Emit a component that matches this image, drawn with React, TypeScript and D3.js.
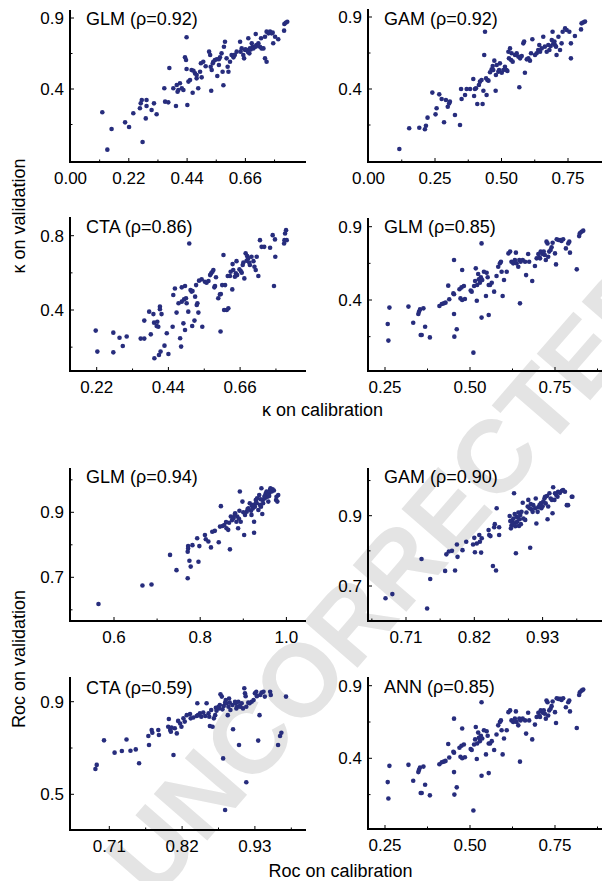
import React from "react";
import * as d3 from "d3";

type Pt = [number, number];

// κ on calibration (x) vs κ on validation (y)
const kappaGLM: Pt[] = [
  [0.120,0.236],[0.139,-0.027],[0.155,0.118],[0.206,0.165],[0.221,0.132],[0.237,0.229],[0.262,0.264],[0.265,0.299],[0.269,0.323],[0.272,0.027],
  [0.284,0.193],[0.287,0.323],[0.287,0.280],[0.306,0.252],[0.315,0.299],[0.325,0.222],[0.354,0.405],[0.357,0.311],[0.373,0.548],[0.369,0.306],
  [0.388,0.405],[0.398,0.280],[0.401,0.428],[0.407,0.393],[0.404,0.381],[0.413,0.440],[0.420,0.405],[0.426,0.393],[0.432,0.623],[0.436,0.604],
  [0.438,0.764],[0.438,0.541],[0.441,0.287],[0.445,0.452],[0.451,0.463],[0.457,0.534],[0.461,0.374],[0.464,0.529],[0.470,0.510],[0.476,0.499],
  [0.476,0.475],[0.482,0.405],[0.489,0.522],[0.492,0.581],[0.495,0.482],[0.501,0.592],[0.523,0.663],[0.527,0.639],[0.529,0.557],[0.531,0.388],
  [0.533,0.534],[0.537,0.581],[0.539,0.592],[0.545,0.604],[0.552,0.609],[0.554,0.492],[0.560,0.569],[0.564,0.623],[0.570,0.651],[0.574,0.522],
  [0.577,0.426],[0.579,0.698],[0.583,0.733],[0.589,0.616],[0.593,0.557],[0.596,0.522],[0.602,0.592],[0.608,0.639],[0.615,0.623],[0.627,0.663],
  [0.640,0.733],[0.642,0.663],[0.646,0.686],[0.652,0.639],[0.655,0.616],[0.659,0.675],[0.665,0.675],[0.671,0.757],[0.675,0.651],[0.677,0.686],
  [0.680,0.679],[0.684,0.722],[0.687,0.698],[0.690,0.686],[0.696,0.698],[0.699,0.787],[0.702,0.710],[0.709,0.722],[0.715,0.698],[0.719,0.757],
  [0.721,0.686],[0.728,0.686],[0.734,0.616],[0.740,0.592],[0.734,0.768],[0.740,0.804],[0.747,0.792],[0.753,0.804],[0.759,0.792],[0.763,0.797],
  [0.765,0.722],[0.772,0.768],[0.784,0.750],[0.806,0.811],[0.807,0.858],[0.812,0.867],[0.818,0.874],[0.660,0.680],[0.670,0.660],[0.700,0.700],
  [0.620,0.640],[0.510,0.560],[0.560,0.610],
];

const kappaGAM: Pt[] = [
  [0.116,-0.017],[0.153,0.127],[0.191,0.131],[0.212,0.120],[0.216,0.145],[0.222,0.201],[0.240,0.375],[0.252,0.224],[0.256,0.266],[0.266,0.363],
  [0.275,0.331],[0.284,0.169],[0.291,0.324],[0.298,0.277],[0.303,0.300],[0.306,0.312],[0.325,0.219],[0.344,0.150],[0.348,0.400],[0.350,0.331],
  [0.363,0.358],[0.369,0.400],[0.382,0.400],[0.394,0.469],[0.397,0.351],[0.400,0.400],[0.404,0.405],[0.409,0.296],[0.415,0.428],[0.419,0.451],
  [0.425,0.463],[0.429,0.296],[0.432,0.388],[0.435,0.636],[0.438,0.798],[0.442,0.474],[0.444,0.358],[0.447,0.463],[0.451,0.458],[0.457,0.516],
  [0.463,0.537],[0.467,0.560],[0.469,0.532],[0.473,0.597],[0.478,0.388],[0.479,0.497],[0.482,0.567],[0.488,0.520],[0.491,0.532],[0.494,0.578],
  [0.501,0.513],[0.507,0.532],[0.513,0.555],[0.519,0.532],[0.522,0.525],[0.526,0.659],[0.528,0.613],[0.532,0.682],[0.536,0.601],[0.538,0.648],
  [0.542,0.590],[0.551,0.636],[0.557,0.648],[0.563,0.625],[0.570,0.613],[0.567,0.412],[0.576,0.629],[0.582,0.717],[0.585,0.729],[0.588,0.513],
  [0.595,0.606],[0.601,0.613],[0.607,0.597],[0.611,0.648],[0.616,0.745],[0.626,0.636],[0.632,0.648],[0.638,0.671],[0.642,0.706],[0.645,0.659],
  [0.651,0.682],[0.657,0.763],[0.663,0.694],[0.670,0.659],[0.676,0.706],[0.680,0.671],[0.685,0.699],[0.689,0.740],[0.692,0.798],[0.695,0.717],
  [0.699,0.729],[0.701,0.706],[0.705,0.694],[0.707,0.636],[0.714,0.763],[0.720,0.671],[0.726,0.717],[0.730,0.798],[0.739,0.821],[0.745,0.810],
  [0.755,0.798],[0.761,0.717],[0.761,0.613],[0.776,0.768],[0.799,0.814],[0.801,0.856],[0.808,0.863],[0.814,0.868],
];

const kappaCTA: Pt[] = [
  [0.217,0.289],[0.222,0.176],[0.271,0.278],[0.271,0.172],[0.290,0.251],[0.300,0.206],[0.312,0.257],[0.355,0.246],[0.366,0.246],[0.366,0.343],
  [0.381,0.391],[0.386,0.269],[0.394,0.378],[0.396,0.332],[0.397,0.140],[0.404,0.314],[0.406,0.337],[0.409,0.310],[0.411,0.158],[0.414,0.404],
  [0.414,0.418],[0.419,0.378],[0.416,0.176],[0.428,0.208],[0.435,0.275],[0.440,0.163],[0.453,0.310],[0.455,0.481],[0.460,0.516],[0.465,0.386],
  [0.471,0.436],[0.476,0.248],[0.479,0.203],[0.481,0.445],[0.481,0.522],[0.486,0.328],[0.488,0.457],[0.491,0.292],[0.491,0.529],[0.494,0.463],
  [0.496,0.436],[0.501,0.391],[0.504,0.758],[0.508,0.508],[0.511,0.499],[0.513,0.314],[0.514,0.502],[0.520,0.343],[0.522,0.472],[0.525,0.534],
  [0.527,0.427],[0.529,0.436],[0.532,0.386],[0.534,0.558],[0.542,0.565],[0.544,0.310],[0.552,0.552],[0.557,0.547],[0.563,0.556],[0.568,0.588],
  [0.571,0.597],[0.575,0.606],[0.578,0.615],[0.581,0.522],[0.583,0.529],[0.586,0.576],[0.593,0.463],[0.598,0.484],[0.600,0.284],[0.601,0.486],
  [0.605,0.534],[0.609,0.696],[0.611,0.400],[0.614,0.534],[0.619,0.400],[0.622,0.583],[0.624,0.409],[0.629,0.583],[0.631,0.606],[0.636,0.511],
  [0.637,0.647],[0.639,0.615],[0.644,0.579],[0.647,0.597],[0.649,0.663],[0.651,0.588],[0.658,0.619],[0.662,0.610],[0.665,0.601],[0.668,0.642],
  [0.670,0.656],[0.673,0.570],[0.677,0.705],[0.680,0.665],[0.682,0.690],[0.685,0.678],[0.688,0.656],[0.690,0.642],[0.695,0.687],[0.701,0.663],
  [0.704,0.633],[0.708,0.615],[0.711,0.687],[0.716,0.583],[0.721,0.776],[0.726,0.740],[0.734,0.740],[0.752,0.735],[0.760,0.803],[0.764,0.529],
  [0.767,0.780],[0.768,0.687],[0.795,0.758],[0.796,0.776],[0.798,0.812],[0.801,0.830],[0.803,0.776],
];

// shared by the κ GLM (ρ=0.85) and ANN (ρ=0.85) panels
const kappaGLM2: Pt[] = [
  [0.258,0.236],[0.260,0.123],[0.263,0.348],[0.319,0.355],[0.333,0.245],[0.348,0.305],[0.350,0.320],[0.353,0.336],[0.355,0.161],[0.358,0.161],
  [0.363,0.343],[0.368,0.218],[0.382,0.145],[0.410,0.359],[0.417,0.373],[0.423,0.377],[0.428,0.382],[0.436,0.498],[0.439,0.405],[0.451,0.445],
  [0.453,0.439],[0.453,0.305],[0.453,0.673],[0.454,0.150],[0.461,0.200],[0.469,0.473],[0.472,0.411],[0.475,0.486],[0.477,0.605],[0.477,0.400],
  [0.482,0.495],[0.485,0.407],[0.502,0.464],[0.505,0.457],[0.510,0.041],[0.512,0.495],[0.515,0.530],[0.517,0.616],[0.520,0.395],[0.521,0.502],
  [0.524,0.577],[0.526,0.541],[0.529,0.518],[0.532,0.555],[0.534,0.280],[0.534,0.786],[0.536,0.536],[0.541,0.593],[0.547,0.427],[0.549,0.586],
  [0.552,0.555],[0.555,0.298],[0.555,0.502],[0.559,0.502],[0.564,0.518],[0.571,0.457],[0.578,0.564],[0.583,0.627],[0.588,0.650],[0.591,0.661],
  [0.593,0.593],[0.596,0.427],[0.600,0.536],[0.608,0.593],[0.613,0.718],[0.618,0.730],[0.622,0.661],[0.627,0.650],[0.632,0.673],[0.635,0.723],
  [0.637,0.650],[0.642,0.627],[0.645,0.673],[0.647,0.377],[0.649,0.661],[0.655,0.673],[0.662,0.661],[0.665,0.570],[0.671,0.714],[0.674,0.661],
  [0.683,0.530],[0.691,0.632],[0.696,0.684],[0.701,0.714],[0.704,0.691],[0.706,0.684],[0.708,0.730],[0.711,0.723],[0.714,0.714],[0.717,0.730],
  [0.720,0.707],[0.723,0.673],[0.725,0.798],[0.728,0.786],[0.730,0.695],[0.733,0.730],[0.737,0.741],[0.740,0.759],[0.743,0.791],[0.750,0.718],
  [0.753,0.643],[0.755,0.814],[0.760,0.809],[0.765,0.809],[0.769,0.802],[0.774,0.814],[0.782,0.752],[0.789,0.786],[0.792,0.798],[0.794,0.723],
  [0.814,0.609],[0.821,0.836],[0.823,0.855],[0.828,0.866],[0.833,0.873],
];

// Roc on calibration (x) vs Roc on validation (y)
const rocGLM: Pt[] = [
  [0.564,0.618],[0.666,0.675],[0.687,0.678],[0.730,0.769],[0.745,0.722],[0.771,0.697],[0.771,0.779],[0.772,0.789],[0.772,0.796],[0.775,0.751],
  [0.778,0.733],[0.782,0.799],[0.796,0.748],[0.798,0.796],[0.793,0.820],[0.811,0.830],[0.813,0.817],[0.819,0.810],[0.825,0.792],[0.828,0.840],
  [0.834,0.843],[0.843,0.808],[0.848,0.919],[0.846,0.856],[0.852,0.858],[0.856,0.861],[0.861,0.851],[0.865,0.846],[0.869,0.786],[0.867,0.868],
  [0.871,0.887],[0.874,0.876],[0.877,0.882],[0.881,0.897],[0.884,0.871],[0.886,0.887],[0.888,0.851],[0.891,0.905],[0.892,0.964],[0.894,0.871],
  [0.898,0.933],[0.902,0.830],[0.904,0.892],[0.908,0.902],[0.912,0.912],[0.915,0.928],[0.918,0.905],[0.919,0.892],[0.922,0.912],[0.923,0.923],
  [0.925,0.837],[0.925,0.871],[0.927,0.917],[0.929,0.938],[0.931,0.928],[0.932,0.943],[0.935,0.907],[0.937,0.953],[0.939,0.923],[0.941,0.917],
  [0.942,0.974],[0.944,0.895],[0.945,0.938],[0.946,0.928],[0.949,0.948],[0.950,0.943],[0.952,0.958],[0.954,0.964],[0.956,0.948],[0.958,0.933],
  [0.960,0.958],[0.962,0.969],[0.963,0.974],[0.966,0.964],[0.968,0.971],[0.971,0.967],[0.976,0.938],[0.977,0.948],[0.979,0.933],[0.981,0.953],
  [0.900,0.900],[0.910,0.910],[0.920,0.920],[0.930,0.930],[0.940,0.940],[0.950,0.950],[0.880,0.890],[0.860,0.870],[0.890,0.880],[0.940,0.920],
  [0.960,0.950],
];

const rocGAM: Pt[] = [
  [0.677,0.665],[0.688,0.677],[0.735,0.777],[0.744,0.636],[0.749,0.720],[0.773,0.743],[0.775,0.790],[0.779,0.798],[0.784,0.800],[0.789,0.744],
  [0.792,0.818],[0.793,0.783],[0.801,0.802],[0.807,0.826],[0.818,0.818],[0.820,0.837],[0.821,0.796],[0.824,0.821],[0.828,0.845],[0.829,0.826],
  [0.831,0.795],[0.832,0.836],[0.843,0.859],[0.844,0.845],[0.846,0.842],[0.850,0.757],[0.852,0.867],[0.853,0.876],[0.855,0.744],[0.856,0.921],
  [0.860,0.845],[0.860,0.867],[0.877,0.899],[0.879,0.864],[0.880,0.873],[0.881,0.886],[0.883,0.892],[0.884,0.964],[0.885,0.905],[0.887,0.793],
  [0.887,0.880],[0.888,0.897],[0.889,0.883],[0.891,0.909],[0.892,0.871],[0.894,0.902],[0.895,0.876],[0.896,0.911],[0.898,0.937],[0.899,0.892],
  [0.902,0.888],[0.904,0.909],[0.906,0.926],[0.907,0.945],[0.909,0.921],[0.910,0.809],[0.911,0.933],[0.912,0.918],[0.914,0.911],[0.915,0.930],
  [0.918,0.921],[0.919,0.949],[0.920,0.878],[0.922,0.911],[0.923,0.924],[0.925,0.930],[0.927,0.935],[0.928,0.921],[0.930,0.927],[0.931,0.940],
  [0.933,0.949],[0.934,0.954],[0.935,0.935],[0.937,0.956],[0.938,0.890],[0.939,0.926],[0.941,0.964],[0.943,0.949],[0.945,0.945],[0.946,0.907],
  [0.947,0.981],[0.949,0.945],[0.950,0.964],[0.952,0.959],[0.954,0.954],[0.955,0.968],[0.958,0.965],[0.961,0.971],[0.963,0.973],[0.966,0.968],
  [0.969,0.930],[0.971,0.930],[0.977,0.954],[0.978,0.954],[0.878,0.885],[0.882,0.878],[0.886,0.870],[0.890,0.895],[0.893,0.890],
];

const rocCTA: Pt[] = [
  [0.689,0.609],[0.691,0.627],[0.702,0.733],[0.718,0.680],[0.729,0.687],[0.736,0.737],[0.742,0.688],[0.750,0.694],[0.755,0.634],[0.769,0.752],
  [0.770,0.713],[0.774,0.778],[0.775,0.766],[0.784,0.778],[0.785,0.756],[0.799,0.792],[0.800,0.825],[0.802,0.778],[0.803,0.770],[0.804,0.788],
  [0.807,0.670],[0.809,0.785],[0.812,0.763],[0.814,0.817],[0.817,0.806],[0.819,0.792],[0.822,0.828],[0.824,0.814],[0.827,0.842],[0.832,0.847],
  [0.833,0.828],[0.837,0.832],[0.842,0.838],[0.843,0.893],[0.844,0.842],[0.847,0.850],[0.849,0.835],[0.852,0.853],[0.855,0.838],[0.857,0.893],
  [0.860,0.850],[0.861,0.835],[0.862,0.795],[0.864,0.864],[0.866,0.792],[0.868,0.828],[0.870,0.842],[0.871,0.874],[0.872,0.861],[0.875,0.878],
  [0.876,0.871],[0.877,0.886],[0.878,0.932],[0.880,0.922],[0.881,0.867],[0.882,0.655],[0.883,0.881],[0.885,0.896],[0.886,0.907],[0.887,0.893],
  [0.889,0.842],[0.890,0.878],[0.891,0.914],[0.892,0.896],[0.893,0.864],[0.896,0.886],[0.897,0.781],[0.900,0.900],[0.901,0.893],[0.902,0.871],
  [0.903,0.878],[0.905,0.900],[0.906,0.713],[0.907,0.881],[0.908,0.878],[0.910,0.893],[0.912,0.871],[0.914,0.958],[0.915,0.936],[0.916,0.924],
  [0.917,0.552],[0.917,0.878],[0.920,0.896],[0.922,0.893],[0.925,0.900],[0.928,0.907],[0.930,0.936],[0.932,0.943],[0.933,0.924],[0.935,0.732],
  [0.937,0.842],[0.938,0.929],[0.940,0.939],[0.943,0.943],[0.945,0.922],[0.953,0.943],[0.954,0.929],[0.965,0.713],[0.968,0.752],[0.970,0.766],
  [0.977,0.922],[0.885,0.432],
];

const rocANN: Pt[] = kappaGLM2;

// tick values
const kGlmXTicks = [0, 0.22, 0.44, 0.66];
const kGlmXMinor = [0.11, 0.33, 0.55, 0.77];
const kGamXTicks = [0, 0.25, 0.5, 0.75];
const kGamXMinor = [0.125, 0.375, 0.625];
const kCtaXTicks = [0.22, 0.44, 0.66];
const kCtaXMinor = [0.33, 0.55, 0.77];
const quarterTicks = [0.25, 0.5, 0.75];
const quarterMinor = [0.375, 0.625, 0.875];
const yTicks49 = [0.4, 0.9];
const yMinor49 = [0.15, 0.65];
const yTicks48 = [0.4, 0.8];
const yMinor48 = [0.2, 0.6];
const rGlmXTicks = [0.6, 0.8, 1.0];
const rGlmXMinor = [0.7, 0.9];
const rocXTicks = [0.71, 0.82, 0.93];
const rocXMinor = [0.655, 0.765, 0.875, 0.985];
const rocYTicks79 = [0.7, 0.9];
const rGlmYMinor = [0.6, 0.8, 1.0];
const rGamYMinor = [0.8, 1.0];
const rCtaYTicks = [0.5, 0.9];
const rCtaYMinor = [0.7];

const titles = [
  "GLM (ρ=0.92)", "GAM (ρ=0.92)", "CTA (ρ=0.86)", "GLM (ρ=0.85)",
  "GLM (ρ=0.94)", "GAM (ρ=0.90)", "CTA (ρ=0.59)", "ANN (ρ=0.85)",
];

interface Panel {
  data: Pt[];
  title: string;
  xRef: [number, number]; xPix: [number, number];
  yRef: [number, number]; yPix: [number, number];
  left: number; right: number; top: number; bottom: number; titleY: number;
  xTicks: number[]; xMinor: number[]; xDec: number;
  yTicks: number[]; yMinor: number[];
}

const panels: Panel[] = [
  { data: kappaGLM, title: titles[0], xRef: [0, 0.66], xPix: [70.5, 245.4], yRef: [0.4, 0.9], yPix: [89, 18],
    left: 70, right: 306, top: 10, bottom: 162, titleY: 25, xTicks: kGlmXTicks, xMinor: kGlmXMinor, xDec: 2, yTicks: yTicks49, yMinor: yMinor49 },
  { data: kappaGAM, title: titles[1], xRef: [0, 0.75], xPix: [368.5, 568], yRef: [0.4, 0.9], yPix: [89, 17],
    left: 368, right: 602, top: 9, bottom: 162, titleY: 25, xTicks: kGamXTicks, xMinor: kGamXMinor, xDec: 2, yTicks: yTicks49, yMinor: yMinor49 },
  { data: kappaCTA, title: titles[2], xRef: [0.22, 0.66], xPix: [96.7, 240.1], yRef: [0.4, 0.8], yPix: [310, 235.7],
    left: 70, right: 306, top: 217, bottom: 371, titleY: 233, xTicks: kCtaXTicks, xMinor: kCtaXMinor, xDec: 2, yTicks: yTicks48, yMinor: yMinor48 },
  { data: kappaGLM2, title: titles[3], xRef: [0.25, 0.75], xPix: [385, 555], yRef: [0.4, 0.9], yPix: [300, 226.7],
    left: 368, right: 602, top: 218, bottom: 371, titleY: 233, xTicks: quarterTicks, xMinor: quarterMinor, xDec: 2, yTicks: yTicks49, yMinor: yMinor49 },
  { data: rocGLM, title: titles[4], xRef: [0.6, 1.0], xPix: [114, 286.4], yRef: [0.7, 0.9], yPix: [577.3, 512.3],
    left: 70, right: 306, top: 468, bottom: 621, titleY: 483, xTicks: rGlmXTicks, xMinor: rGlmXMinor, xDec: 1, yTicks: rocYTicks79, yMinor: rGlmYMinor },
  { data: rocGAM, title: titles[5], xRef: [0.71, 0.93], xPix: [406, 542.6], yRef: [0.7, 0.9], yPix: [586, 515.7],
    left: 368, right: 602, top: 468, bottom: 621, titleY: 483, xTicks: rocXTicks, xMinor: rocXMinor, xDec: 2, yTicks: rocYTicks79, yMinor: rGamYMinor },
  { data: rocCTA, title: titles[6], xRef: [0.71, 0.93], xPix: [109.3, 254.9], yRef: [0.5, 0.9], yPix: [794.3, 701.7],
    left: 70, right: 306, top: 677, bottom: 830, titleY: 694, xTicks: rocXTicks, xMinor: rocXMinor.slice(1), xDec: 2, yTicks: rCtaYTicks, yMinor: rCtaYMinor },
  { data: rocANN, title: titles[7], xRef: [0.25, 0.75], xPix: [385, 555], yRef: [0.4, 0.9], yPix: [758.3, 685.7],
    left: 368, right: 602, top: 677, bottom: 829, titleY: 693, xTicks: quarterTicks, xMinor: quarterMinor, xDec: 2, yTicks: yTicks49, yMinor: yMinor49 },
];

const FONT = "'Liberation Sans', Arial, Helvetica, sans-serif";
const DOT = "#272d7d";

function PanelView({ p }: { p: Panel }) {
  const x = d3.scaleLinear().domain(p.xRef).range(p.xPix);
  const y = d3.scaleLinear().domain(p.yRef).range(p.yPix);
  const fx = d3.format(`.${p.xDec}f`);
  const fy = d3.format(".1f");
  return (
    <g>
      {p.data.map((d, i) => (
        <circle key={i} cx={x(d[0])} cy={y(d[1])} r={2.3} fill={DOT} />
      ))}
      <line x1={p.left} x2={p.right} y1={p.bottom} y2={p.bottom} stroke="#000" strokeWidth={2} />
      <line x1={p.left} x2={p.left} y1={p.top} y2={p.bottom + 1} stroke="#000" strokeWidth={2} />
      {p.xTicks.map((t) => (
        <g key={"xt" + t}>
          <line x1={x(t)} x2={x(t)} y1={p.bottom} y2={p.bottom - 4} stroke="#000" strokeWidth={1} />
          <text x={x(t)} y={p.bottom + 22} textAnchor="middle" fontSize={17} fontFamily={FONT}>{fx(t)}</text>
        </g>
      ))}
      {p.xMinor.map((t) => (
        <line key={"xm" + t} x1={x(t)} x2={x(t)} y1={p.bottom} y2={p.bottom - 2.5} stroke="#000" strokeWidth={1} />
      ))}
      {p.yTicks.map((t) => (
        <g key={"yt" + t}>
          <line x1={p.left} x2={p.left + 4} y1={y(t)} y2={y(t)} stroke="#000" strokeWidth={1} />
          <text x={p.left - 6} y={y(t)} dy="0.36em" textAnchor="end" fontSize={17} fontFamily={FONT}>{fy(t)}</text>
        </g>
      ))}
      {p.yMinor.map((t) => (
        <line key={"ym" + t} x1={p.left} x2={p.left + 2.5} y1={y(t)} y2={y(t)} stroke="#000" strokeWidth={1} />
      ))}
      <text x={p.left + 16} y={p.titleY} fontSize={18} fontFamily={FONT}>{p.title}</text>
    </g>
  );
}

export default function App() {
  return (
    <svg width={602} height={881} style={{ position: "absolute", left: 0, top: 0, background: "#fff" }}>
      <rect width={602} height={881} fill="#fff" />
      <text
        transform="translate(154,902) rotate(-49)"
        fontSize={103}
        fontWeight="bold"
        fontFamily={FONT}
        fill="#e4e4e4"
      >
        UNCORRECTED PROOF
      </text>
      {panels.map((p, i) => (
        <PanelView key={i} p={p} />
      ))}
      <text transform="translate(25,216) rotate(-90)" textAnchor="middle" fontSize={18} fontFamily={FONT}>κ on validation</text>
      <text x={322.5} y={416} textAnchor="middle" fontSize={18} fontFamily={FONT}>κ on calibration</text>
      <text transform="translate(25,659) rotate(-90)" textAnchor="middle" fontSize={18} fontFamily={FONT}>Roc on validation</text>
      <text x={340.5} y={877} textAnchor="middle" fontSize={18} fontFamily={FONT}>Roc on calibration</text>
    </svg>
  );
}
